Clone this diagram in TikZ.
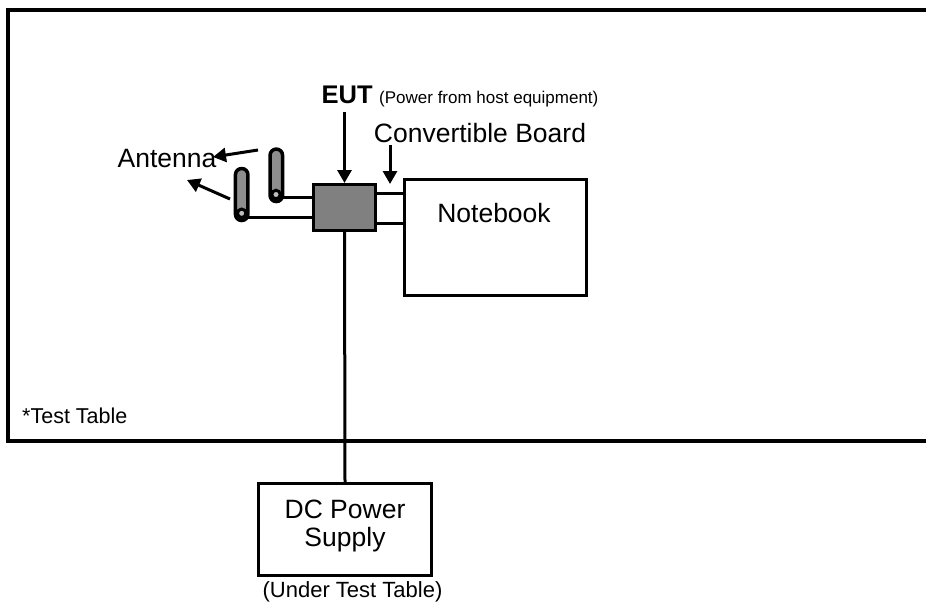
\documentclass[tikz,border=0pt]{standalone}
\usepackage{fontspec}
\setmainfont{Liberation Sans}
\usetikzlibrary{arrows.meta}
\definecolor{eutgray}{HTML}{808080}
\definecolor{antgray}{HTML}{8E8E8E}
\definecolor{tipgray}{HTML}{BDBDBD}
\tikzset{
  boxnode/.style={draw=black, line width=3pt, rectangle, inner sep=0pt},
  wire/.style={draw=black, line width=3pt},
  arr/.style={draw=black, line width=3pt, -{Triangle[length=13pt,width=14pt]}},
  antbody/.style={draw=black, line width=3.5pt, fill=antgray, rectangle, rounded corners=6.2pt, minimum width=12.5pt, inner sep=0pt},
  anttip/.style={draw=black, line width=3pt, fill=tipgray, circle, minimum size=8.5pt, inner sep=0pt},
  bigtxt/.style={inner sep=0pt, font=\fontsize{26.5}{30}\selectfont},
  midtxt/.style={inner sep=0pt, font=\fontsize{21.5}{25}\selectfont},
  undertxt/.style={inner sep=0pt, font=\fontsize{22}{26}\selectfont},
  smalltxt/.style={inner sep=0pt, font=\fontsize{17}{20}\selectfont},
}
\begin{document}
\begin{tikzpicture}[x=1pt, y=-1pt]
\useasboundingbox (0,0) rectangle (926,606);
\clip (0,0) rectangle (926,606);
\fill[white] (0,0) rectangle (926,606);
% test table
\draw[line width=4pt] (7.5,10) rectangle (945,441);
\node[midtxt, anchor=base west] (tt) at (22,423) {*Test Table};
% boxes
\node[boxnode, fill=eutgray, minimum width=62pt, minimum height=46pt] (eut) at (344.5,207.5) {};
\node[boxnode, fill=white, minimum width=182pt, minimum height=116pt] (nb) at (495.5,237.5) {};
\node[boxnode, fill=white, minimum width=173pt, minimum height=92pt] (dc) at (345,529.5) {};
% power line
\draw[wire] (eut.south) -- (dc.north);
% convertible board connection
\coordinate (cb1) at (390,193);
\coordinate (cb2) at (390,223);
\draw[wire] (eut.east |- cb1) -- (nb.west |- cb1);
\draw[wire] (eut.east |- cb2) -- (nb.west |- cb2);
% antennas
\coordinate (c1) at (276,194.5);
\coordinate (c2) at (241.7,213.3);
\draw[wire] ([yshift=-3pt]c1) -- ([yshift=-3pt]c1 -| eut.west);
\draw[wire] ([yshift=-4pt]c2) -- ([yshift=-4pt]c2 -| eut.west);
\node[antbody, minimum height=52.5pt] (ant1) at (276.3,175.3) {};
\node[antbody, minimum height=52pt] (ant2) at (241.7,194.5) {};
\node[anttip] (tip1) at (c1) {};
\node[anttip] (tip2) at (c2) {};
% labels
\node[bigtxt, anchor=base] (antlbl) at (167,167) {Antenna};
\node[bigtxt, anchor=base] (nblbl) at (494,222) {Notebook};
\node[bigtxt, anchor=base] (cblbl) at (480,142) {Convertible Board};
\node[inner sep=0pt, font=\fontsize{25.5}{29}\bfseries\selectfont, anchor=base west] (eutlbl) at (321.5,103) {EUT};
\node[smalltxt, anchor=base west] (pwr) at (379,103) {(Power from host equipment)};
\node[bigtxt, anchor=base] (dc1) at (345,518) {DC Power};
\node[bigtxt, anchor=base] (dc2) at (345,546) {Supply};
\node[undertxt, anchor=base] (under) at (352.5,597) {(Under Test Table)};
% arrows
\draw[arr] ([yshift=-9pt]eutlbl.south -| eut.north) -- (eut.north);
\coordinate (cbtip) at (390,184);
\draw[arr] ([yshift=-3pt]cblbl.south -| cbtip) -- (cbtip);
\coordinate (a1s) at (258,150);
\coordinate (a1e) at (213,157);
\coordinate (a2s) at (230,199);
\coordinate (a2e) at (187,180);
\draw[arr] (a1s) -- (a1e);
\draw[arr] (a2s) -- (a2e);
\end{tikzpicture}
\end{document}
